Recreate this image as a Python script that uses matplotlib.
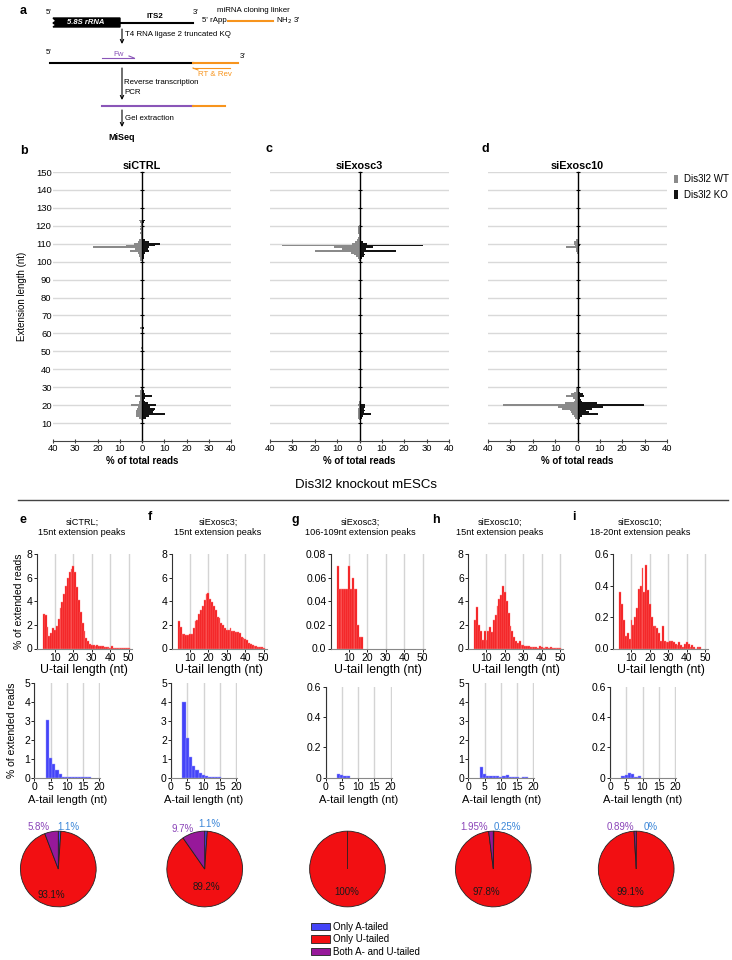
import matplotlib
matplotlib.use("Agg")
import matplotlib.pyplot as plt
from matplotlib.patches import Patch, Polygon
import numpy as np

plt.rcParams["font.family"] = ["Liberation Sans", "DejaVu Sans"]

W, H = 732, 960

# ---- b-d: extension length vs % of total reads (WT left, KO right)
ctrl_len = [12, 13, 14, 15, 16, 17, 18, 19, 20, 21, 22, 23, 24, 25, 26, 27, 28, 29, 52, 63,
            101, 102, 103, 104, 105, 106, 107, 108, 109, 110, 111, 112, 113, 114, 115, 116,
            117, 118, 119, 120, 121, 122, 123]
ctrl_wt = [0.5, 1.5, 2.5, 2.8, 2.5, 2.5, 2.2, 2.0, 4.8, 1.5, 1.2, 0.8, 0.8, 3.0, 1.0, 0.8, 0.8, 0.3, 0.3, 1.0,
           0.8, 1.0, 1.2, 1.5, 2.0, 5.5, 3.0, 22.0, 7.0, 3.5, 2.0, 1.5, 0.6, 0.4, 0.6, 0.8,
           0.6, 0.8, 0.6, 0.5, 0.6, 1.0, 1.5]
ctrl_ko = [0.5, 2.0, 3.0, 10.5, 5.0, 5.5, 6.0, 3.5, 6.3, 2.5, 1.5, 1.0, 1.2, 4.5, 1.5, 1.0, 1.0, 0.5, 0.3, 1.0,
           0.5, 0.8, 1.0, 1.0, 1.5, 3.0, 2.5, 3.0, 6.0, 8.0, 3.0, 1.5, 0.5, 0.3, 0.5, 0.5,
           0.4, 0.5, 0.4, 0.4, 0.5, 0.8, 1.5]

exo3_len = [12, 13, 14, 15, 16, 17, 18, 19, 20, 21, 22,
            101, 102, 103, 104, 105, 106, 107, 108, 109, 110, 111, 112, 113, 114, 115, 116, 117, 118, 119, 120]
exo3_wt = [0.2, 0.5, 0.5, 0.8, 0.5, 0.5, 0.5, 0.3, 0.5, 0.3, 0.2,
           0.3, 0.8, 1.5, 2.5, 4.0, 20.0, 8.0, 11.5, 34.5, 3.5, 2.0, 1.0, 0.5, 0.3, 0.3, 0.5, 0.8, 0.8, 0.6, 0.4]
exo3_ko = [0.5, 1.0, 1.5, 5.0, 2.0, 2.5, 2.0, 2.5, 2.5, 0.8, 0.5,
           0.3, 1.0, 2.0, 2.5, 2.0, 16.5, 3.0, 6.0, 28.5, 3.5, 1.5, 0.8, 0.3, 0.2, 0.2, 0.3, 0.4, 0.4, 0.3, 0.2]

exo10_len = [12, 13, 14, 15, 16, 17, 18, 19, 20, 21, 22, 23, 24, 25, 26, 27, 28, 29,
             105, 106, 107, 108, 109, 110, 111, 112]
exo10_wt = [0.3, 1.0, 1.5, 2.5, 3.0, 3.5, 7.0, 8.5, 33.5, 5.5, 1.5, 1.0, 2.0, 5.0, 3.0, 1.5, 0.8, 0.5,
            0.3, 0.5, 0.8, 5.0, 1.0, 1.5, 1.5, 0.5]
exo10_ko = [0.5, 1.0, 2.0, 9.0, 5.0, 4.0, 6.5, 11.5, 29.5, 8.5, 2.0, 1.5, 1.0, 3.0, 2.5, 1.0, 0.5, 0.3,
            0.3, 0.3, 0.5, 0.8, 1.0, 0.8, 0.5, 0.3]

ext_titles = ["siCTRL", "siExosc3", "siExosc10"]

# ---- e-i: U-tail / A-tail length distributions (% of extended reads), first bin = 4 nt
u_start = 4
e_u = [2.9, 2.8, 1.8, 1.1, 1.3, 1.7, 1.6, 1.9, 2.5, 3.4, 3.9, 4.6, 5.3, 6.0, 6.5, 6.7, 7.0, 6.5, 5.2, 4.1,
       3.1, 2.2, 1.5, 0.9, 0.6, 0.4, 0.3, 0.3, 0.25, 0.3, 0.25, 0.2, 0.2, 0.15, 0.1, 0.1, 0.05, 0.2, 0.05, 0.05,
       0.03, 0.03, 0.02, 0.02, 0.02, 0.01, 0.01]
f_u = [2.3, 1.8, 1.2, 1.2, 1.15, 1.15, 1.2, 1.2, 1.7, 2.3, 2.4, 2.9, 3.3, 3.6, 4.1, 4.6, 4.7, 4.2, 3.9, 3.6,
       3.3, 2.7, 2.6, 2.2, 2.0, 1.7, 1.6, 1.6, 1.7, 1.5, 1.5, 1.4, 1.4, 1.3, 1.0, 0.9, 0.8, 0.7, 0.5, 0.35,
       0.3, 0.25, 0.2, 0.15, 0.1, 0.1, 0.05]
g_u = [0.07, 0.05, 0.05, 0.05, 0.05, 0.05, 0.07, 0.05, 0.06, 0.05, 0.05, 0.02, 0.01, 0.01]
h_u = [2.4, 3.5, 2.0, 1.5, 0.7, 1.5, 0.7, 1.5, 1.8, 1.4, 2.4, 2.8, 3.6, 4.2, 4.5, 5.3, 4.8, 4.0, 3.0, 1.9,
       1.5, 1.0, 0.6, 0.5, 0.6, 0.3, 0.3, 0.2, 0.25, 0.2, 0.15, 0.1, 0.1, 0.1, 0.05, 0.2, 0.1, 0.05, 0.1, 0.15,
       0.05, 0.1, 0.05, 0.05, 0.03, 0.02, 0.02]
i_u = [0.36, 0.28, 0.18, 0.08, 0.1, 0.06, 0.18, 0.15, 0.2, 0.26, 0.38, 0.4, 0.51, 0.36, 0.53, 0.37, 0.28, 0.2, 0.14, 0.14,
       0.13, 0.1, 0.05, 0.14, 0.05, 0.04, 0.04, 0.05, 0.05, 0.04, 0.03, 0.02, 0.04, 0.02, 0.01, 0.03, 0.04, 0.03, 0.01, 0.02,
       0.01, 0.0, 0.01, 0.01]

e_a = [3.05, 1.05, 0.7, 0.4, 0.2, 0.05, 0.02, 0.03, 0.02, 0.01, 0.01, 0.01, 0.04, 0.01]
f_a = [4.0, 2.1, 1.1, 0.6, 0.4, 0.25, 0.15, 0.08, 0.05, 0.05, 0.03, 0.02]
g_a = [0.025, 0.015, 0.01, 0.01]
h_a = [0.55, 0.2, 0.1, 0.1, 0.08, 0.1, 0.05, 0.1, 0.12, 0.05, 0.03, 0.02, 0.0, 0.02, 0.02]
i_a = [0.01, 0.015, 0.028, 0.02, 0.005, 0.008]

u_ymax = [8, 8, 0.08, 8, 0.6]
u_yticks = [[0, 2, 4, 6, 8], [0, 2, 4, 6, 8], [0, 0.02, 0.04, 0.06, 0.08], [0, 2, 4, 6, 8], [0, 0.2, 0.4, 0.6]]
u_ylabels = [["0", "2", "4", "6", "8"], ["0", "2", "4", "6", "8"], ["0.0", "0.02", "0.04", "0.06", "0.08"],
             ["0", "2", "4", "6", "8"], ["0.0", "0.2", "0.4", "0.6"]]
a_ymax = [5, 5, 0.6, 5, 0.6]
a_yticks = [[0, 1, 2, 3, 4, 5], [0, 1, 2, 3, 4, 5], [0, 0.2, 0.4, 0.6], [0, 1, 2, 3, 4, 5], [0, 0.2, 0.4, 0.6]]
a_ylabels = [["0", "1", "2", "3", "4", "5"], ["0", "1", "2", "3", "4", "5"], ["0", "0.2", "0.4", "0.6"],
             ["0", "1", "2", "3", "4", "5"], ["0", "0.2", "0.4", "0.6"]]

panel_titles = ["siCTRL;\n15nt extension peaks", "siExosc3;\n15nt extension peaks",
                "siExosc3;\n106-109nt extension peaks", "siExosc10;\n15nt extension peaks",
                "siExosc10;\n18-20nt extension peaks"]

# pie: only A-tailed, only U-tailed, both
pie_a = [1.1, 1.1, 0, 0.25, 0]
pie_u = [93.1, 89.2, 100, 97.8, 99.1]
pie_both = [5.8, 9.7, 0, 1.95, 0.89]
pie_a_txt = ["1.1%", "1.1%", "", "0.25%", "0%"]
pie_u_txt = ["93.1%", "89.2%", "100%", "97.8%", "99.1%"]
pie_both_txt = ["5.8%", "9.7%", "", "1.95%", "0.89%"]

RED = "#f20f12"
BLUE = "#4444f8"
PURPLE = "#97189a"
ORANGE = "#f7941d"
FWPURPLE = "#8a55b8"

fig = plt.figure(figsize=(W / 100, H / 100), dpi=100)


def px_axes(l, t, r, b):
    return fig.add_axes([l / W, 1 - b / H, (r - l) / W, (b - t) / H])


ov = fig.add_axes([0, 0, 1, 1])
ov.set_xlim(0, W)
ov.set_ylim(H, 0)
ov.axis("off")
ov.patch.set_alpha(0)


def txt(x, y, s, **kw):
    kw.setdefault("fontsize", 5.7)
    kw.setdefault("va", "center")
    kw.setdefault("ha", "left")
    ov.text(x, y, s, **kw)


def arrow_down(x, y0, y1):
    ov.annotate("", xy=(x, y1), xytext=(x, y0),
                arrowprops=dict(arrowstyle="->", lw=0.8, color="k", shrinkA=0, shrinkB=0, mutation_scale=6))


# ---- panel a schematic
txt(20, 11, "a", fontsize=9, fontweight="bold")
txt(46, 13, "5'")
ov.add_patch(Polygon([(53, 18), (120, 18), (120, 27), (53, 27), (56, 25), (53, 23), (56, 21)],
                     closed=True, color="k"))
txt(86, 22.5, "5.8S rRNA", fontsize=5.5, color="white", fontweight="bold", style="italic", ha="center")
ov.plot([120, 193], [23, 23], color="k", lw=1.5)
txt(155, 16, "ITS2", fontweight="bold", ha="center")
txt(193, 13, "3'")
txt(253, 10, "miRNA cloning linker", ha="center")
txt(202, 21, "5' rApp")
ov.plot([228, 273], [21, 21], color=ORANGE, lw=1.5)
txt(276, 21, "NH$_2$ 3'")
arrow_down(122, 29, 44)
txt(125, 35, "T4 RNA ligase 2 truncated KQ")
txt(46, 53, "5'")
txt(240, 56, "3'")
txt(113, 54, "Fw", color=FWPURPLE)
ov.plot([102, 134], [58, 58], color=FWPURPLE, lw=0.8)
ov.plot([129, 134], [56, 58], color=FWPURPLE, lw=0.8)
ov.plot([50, 193], [63, 63], color="k", lw=1.5)
ov.plot([193, 238], [63, 63], color=ORANGE, lw=1.5)
ov.plot([193, 230], [68, 68], color=ORANGE, lw=0.8)
ov.plot([193, 198], [68, 70], color=ORANGE, lw=0.8)
txt(198, 75, "RT & Rev", color=ORANGE)
arrow_down(122, 68, 100)
txt(124, 82, "Reverse transcription")
txt(124, 93, "PCR")
ov.plot([102, 193], [106, 106], color=FWPURPLE, lw=1.5)
ov.plot([193, 225], [106, 106], color=ORANGE, lw=1.5)
arrow_down(122, 110, 127)
txt(125, 118, "Gel extraction")
txt(122, 137, "MiSeq", fontsize=6.5, fontweight="bold", ha="center")

# ---- panels b-d
ext_data = [(ctrl_len, ctrl_wt, ctrl_ko), (exo3_len, exo3_wt, exo3_ko), (exo10_len, exo10_wt, exo10_ko)]
ext_box = [(53, 231), (270, 449), (488, 667)]
for k, ((lens, wt, ko), (l, r)) in enumerate(zip(ext_data, ext_box)):
    ax = px_axes(l, 172, r, 441)
    ax.barh(lens, [-v for v in wt], height=1, color="#8a8a8a", lw=0)
    ax.barh(lens, ko, height=1, color="#141414", lw=0)
    ax.set_xlim(-40, 40)
    ax.set_ylim(0, 150)
    ax.set_yticks(range(10, 151, 10))
    ax.grid(axis="y", color="#d9d9d9", lw=1)
    ax.set_axisbelow(True)
    for s in ["top", "right"]:
        ax.spines[s].set_visible(False)
    ax.spines["left"].set_position(("data", 0))
    ax.spines["left"].set_linewidth(1)
    ax.spines["bottom"].set_color("#444444")
    ax.tick_params(axis="y", direction="inout", length=3, labelleft=False, width=0.8)
    ax.set_xticks(range(-40, 41, 10))
    ax.set_xticklabels([str(abs(v)) for v in range(-40, 41, 10)])
    ax.tick_params(axis="x", direction="inout", length=3, labelsize=6.8, pad=1, width=0.8, color="#444444")
    ax.set_xlabel("% of total reads", fontsize=7, fontweight="bold", labelpad=2)
    ax.set_title(ext_titles[k], fontsize=7.8, fontweight="bold", pad=2)
    ax.patch.set_alpha(0)
    if k == 0:
        sec = ax.secondary_yaxis("left")
        sec.set_yticks(range(10, 151, 10))
        sec.spines["left"].set_visible(False)
        sec.tick_params(length=0, labelsize=6.8, pad=1)

txt(22, 296, "Extension length (nt)", fontsize=7, rotation=90, ha="center")
txt(20, 151, "b", fontsize=9, fontweight="bold")
txt(266, 149, "c", fontsize=9, fontweight="bold")
txt(482, 149, "d", fontsize=9, fontweight="bold")
fig.legend(handles=[Patch(facecolor="#8a8a8a", label="Dis3l2 WT"),
                    Patch(facecolor="#141414", label="Dis3l2 KO")],
           loc="upper left", bbox_to_anchor=(674 / W, 1 - 174 / H), frameon=False, fontsize=7,
           handlelength=0.4, handleheight=0.9, handletextpad=0.6, labelspacing=0.6,
           borderpad=0, borderaxespad=0)

# ---- separator and e-i
txt(366, 485, "Dis3l2 knockout mESCs", fontsize=9.5, ha="center")
ov.plot([18, 728], [500, 500], color="#444444", lw=1)
for lab, x, y in [("e", 20, 520), ("f", 148, 517), ("g", 291, 520), ("h", 432, 520), ("i", 572, 517)]:
    txt(x, y, lab, fontsize=9, fontweight="bold")
title_x = [82, 218, 360, 500, 640]
for tx, t in zip(title_x, panel_titles):
    txt(tx, 527.5, t, fontsize=6.6, ha="center", linespacing=1.2)

u_data = [e_u, f_u, g_u, h_u, i_u]
a_data = [e_a, f_a, g_a, h_a, i_a]
u_left = [36.5, 171.5, 330.5, 468, 613]
a_left = [34.3, 171, 325.5, 468.3, 610]


def style_hist(ax, ymax, yt, ylab):
    ax.set_ylim(0, ymax)
    ax.set_yticks(yt)
    ax.set_yticklabels(ylab)
    for s in ["top", "right"]:
        ax.spines[s].set_visible(False)
    ax.spines["left"].set_color("#333333")
    ax.spines["bottom"].set_color("#888888")
    ax.grid(axis="x", color="#d4d4d4", lw=1)
    ax.set_axisbelow(True)
    ax.tick_params(labelsize=7.5, length=2, pad=1, width=0.6)
    ax.patch.set_alpha(0)


for k in range(5):
    ax = px_axes(u_left[k], 554, u_left[k] + 95, 648.5)
    vals = u_data[k]
    ax.bar(np.arange(u_start, u_start + len(vals)), vals, width=1, color=RED,
           edgecolor="#ff8a8a", lw=0.3)
    ax.set_xlim(0, 51.5)
    ax.set_xticks([10, 20, 30, 40, 50])
    style_hist(ax, u_ymax[k], u_yticks[k], u_ylabels[k])
    ax.set_xlabel("U-tail length (nt)", fontsize=8.8, labelpad=1)
    if k == 0:
        ax.set_ylabel("% of extended reads", fontsize=7.5, labelpad=2)

    top = 683 if a_ymax[k] == 5 else 687
    ax2 = px_axes(a_left[k], top, a_left[k] + 66, 777.5)
    vals = a_data[k]
    ax2.bar(np.arange(u_start, u_start + len(vals)), vals, width=1, color=BLUE,
            edgecolor="#9a9aff", lw=0.3)
    ax2.set_xlim(0, 20.3)
    ax2.set_xticks([0, 5, 10, 15, 20])
    style_hist(ax2, a_ymax[k], a_yticks[k], a_ylabels[k])
    ax2.set_xlabel("A-tail length (nt)", fontsize=8, labelpad=2.5)
    if k == 0:
        ax2.set_ylabel("% of extended reads", fontsize=7.5, labelpad=5)

# ---- pies
pie_cx = [58.3, 204.7, 347.5, 493.3, 636.2]
pie_cy = 869
R = 38
lbl_pos = [((-0.53, 1.1), (0.27, 1.1), (-0.18, -0.68)),
           ((-0.58, 1.05), (0.13, 1.18), (0.05, -0.47)),
           ((-0.5, 1.1), (0.3, 1.1), (-0.03, -0.6)),
           ((-0.5, 1.1), (0.37, 1.1), (-0.18, -0.6)),
           ((-0.42, 1.1), (0.39, 1.1), (-0.16, -0.6))]
for k in range(5):
    pa = px_axes(pie_cx[k] - R - 1, pie_cy - R - 1, pie_cx[k] + R + 1, pie_cy + R + 1)
    pa.pie([pie_a[k], pie_u[k], pie_both[k]], colors=[BLUE, RED, PURPLE], startangle=90,
           counterclock=False, radius=1,
           wedgeprops=dict(edgecolor="#222222", linewidth=0.6))
    pa.set_xlim(-1.03, 1.03)
    pa.set_ylim(-1.03, 1.03)
    pa.set_aspect("equal")
    (bx, by), (ax_, ay), (ux, uy) = lbl_pos[k]
    if pie_both_txt[k]:
        pa.text(bx, by, pie_both_txt[k], color="#8a44b8", fontsize=7, ha="center", va="center")
    if pie_a_txt[k]:
        pa.text(ax_, ay, pie_a_txt[k], color="#3a86d8", fontsize=7, ha="center", va="center")
    pa.text(ux, uy, pie_u_txt[k], color="#1a1a1a", fontsize=7, ha="center", va="center")

fig.legend(handles=[Patch(facecolor=BLUE, edgecolor="#222222", lw=0.6, label="Only A-tailed"),
                    Patch(facecolor=RED, edgecolor="#222222", lw=0.6, label="Only U-tailed"),
                    Patch(facecolor=PURPLE, edgecolor="#222222", lw=0.6, label="Both A- and U-tailed")],
           loc="upper left", bbox_to_anchor=(311 / W, 1 - 922 / H), frameon=False, fontsize=7,
           handlelength=2.0, handleheight=0.8, handletextpad=0.3, labelspacing=0.25,
           borderpad=0, borderaxespad=0)

fig.savefig("out.png", dpi=100)
